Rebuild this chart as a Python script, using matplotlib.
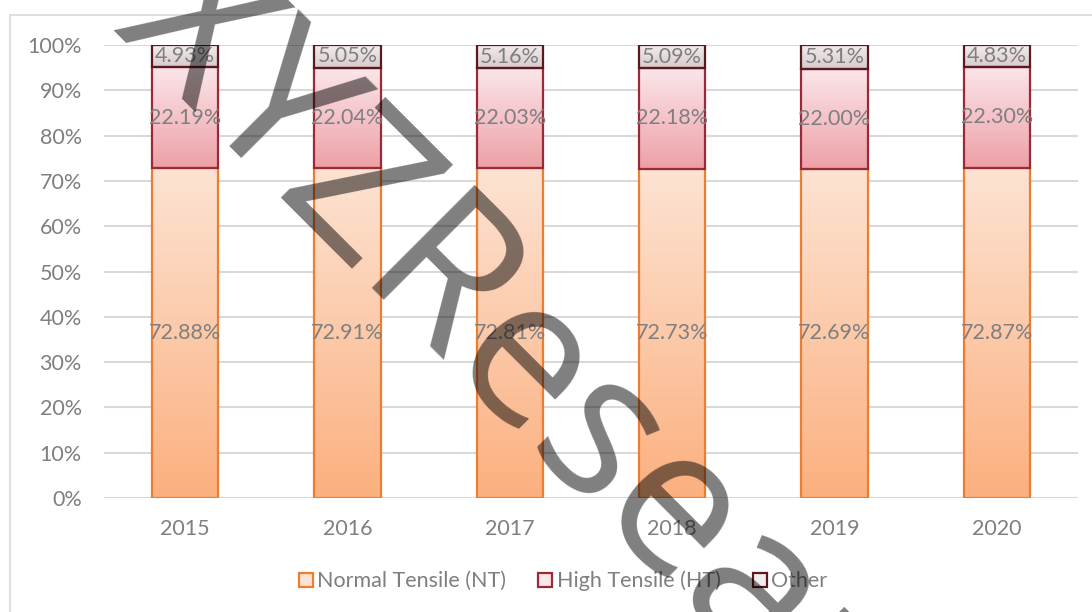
import numpy as np
import matplotlib
matplotlib.use("Agg")
import matplotlib.pyplot as plt
from matplotlib.colors import LinearSegmentedColormap
from matplotlib.patches import Rectangle, Patch

plt.rcParams['font.family'] = ['Lato', 'DejaVu Sans']

years = ['2015', '2016', '2017', '2018', '2019', '2020']
nt = [72.88, 72.91, 72.81, 72.73, 72.69, 72.87]
ht = [22.19, 22.04, 22.03, 22.18, 22.00, 22.30]
other = [4.93, 5.05, 5.16, 5.09, 5.31, 4.83]
series = ['Normal Tensile (NT)', 'High Tensile (HT)', 'Other']

# (top colour, bottom colour, edge colour)
styles = [('#fde3d3', '#fbb07f', '#ed7d31'),
          ('#fbe6ea', '#eda0a6', '#9b2a38'),
          ('#f3eded', '#d8cacb', '#5a1820')]
txt = '#7f7f7f'
fs = 15.5

fig = plt.figure(figsize=(10.92, 6.12), dpi=100)
fig.patches.append(Rectangle((10/1092, -0.1), 1.2, 1.1 - 15/612, transform=fig.transFigure,
                             fill=False, edgecolor='#d9d9d9', lw=1.2, zorder=0))
ax = fig.add_axes([104/1092, 114/612, 974/1092, 453/612])

x = np.arange(len(years))
w = 0.41
grad = np.linspace(0, 1, 256).reshape(-1, 1)


def grad_bar(xc, y0, h, top, bottom, edge):
    cm = LinearSegmentedColormap.from_list('g', [bottom, top])
    ax.imshow(grad, extent=[xc - w/2, xc + w/2, y0, y0 + h], origin='lower',
              cmap=cm, aspect='auto', zorder=2, interpolation='bilinear')
    ax.add_patch(Rectangle((xc - w/2, y0), w, h, fill=False, edgecolor=edge,
                           lw=1.6, zorder=3))


for i in range(len(years)):
    base = 0
    for vals, st in zip([nt, ht, other], styles):
        v = vals[i]
        grad_bar(x[i], base, v, *st)
        ax.text(x[i], base + v/2, f'{v:.2f}%', ha='center', va='center',
                fontsize=fs, color=txt, zorder=4)
        base += v

ax.set_xlim(-0.5, len(years) - 0.5)
ax.set_ylim(0, 100)
ax.set_yticks(np.arange(0, 101, 10))
ax.set_yticklabels([f'{t}%' for t in range(0, 101, 10)])
ax.set_xticks(x)
ax.set_xticklabels(years)
ax.tick_params(axis='y', length=0, pad=16, labelsize=fs, labelcolor=txt)
ax.tick_params(axis='x', length=0, pad=15, labelsize=fs, labelcolor=txt)
ax.grid(axis='y', color='#d9d9d9', lw=1.5, zorder=0)
ax.set_axisbelow(True)
for s in ax.spines.values():
    s.set_visible(False)

handles = [Patch(facecolor=st[0], edgecolor=st[2], lw=1.6, label=lab)
           for lab, st in zip(series, styles)]
leg = fig.legend(handles=handles, loc='center', bbox_to_anchor=(563/1092, 1 - 581/612),
                 ncol=3, frameon=False, fontsize=fs, handlelength=0.65, handleheight=0.65,
                 handletextpad=0.2, columnspacing=1.5)
for t in leg.get_texts():
    t.set_color(txt)

# watermark
fig.text(112/1092, 1 - 30/612, 'XYZResearch', family='Open Sans', fontsize=146,
         rotation=-45, rotation_mode='anchor', ha='left', va='baseline',
         color='black', alpha=0.5, zorder=10)

fig.savefig('out.png', dpi=100)
